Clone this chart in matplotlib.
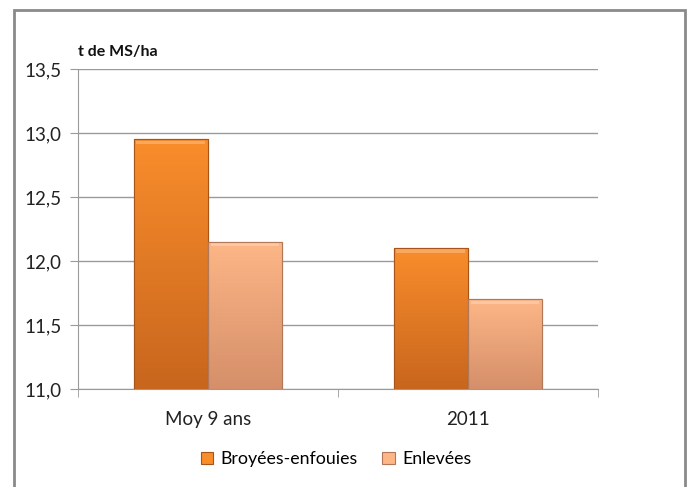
import numpy as np
import matplotlib.pyplot as plt
from matplotlib.patches import Rectangle
from matplotlib.colors import LinearSegmentedColormap

categories = ['Moy 9 ans', '2011']
broyees = [12.95, 12.10]
enlevees = [12.15, 11.70]
series_names = ['Broyées-enfouies', 'Enlevées']
yticks = [11.0, 11.5, 12.0, 12.5, 13.0, 13.5]

plt.rcParams['font.family'] = ['Lato', 'DejaVu Sans']

fig = plt.figure(figsize=(6.92, 4.87), dpi=100)
ax = fig.add_axes([0.1127, 0.2012, 0.7514, 0.6571])

x = np.arange(len(categories))
w = 0.285

# couleurs (haut, bas) pour le dégradé
cols = [('#f98d2c', '#c8661e'), ('#fdb686', '#d58f6a')]
edges = ['#a85418', '#b07858']

for j, vals in enumerate([broyees, enlevees]):
    off = (j - 0.5) * w
    bars = ax.bar(x + off, [v - 11.0 for v in vals], w, bottom=11.0,
                  color=cols[j][0], edgecolor=edges[j], linewidth=0.8,
                  label=series_names[j], zorder=3)
    cmap = LinearSegmentedColormap.from_list('g%d' % j, [cols[j][1], cols[j][0]])
    for b in bars:
        x0, y0 = b.get_x(), b.get_y()
        x1, y1 = x0 + b.get_width(), y0 + b.get_height()
        grad = np.linspace(0, 1, 100).reshape(-1, 1)
        im = ax.imshow(grad, cmap=cmap, origin='lower', aspect='auto',
                       extent=[x0, x1, y0, y1], zorder=3.5)
        im.set_clip_path(b)
        # liseré clair en haut
        ax.add_patch(Rectangle((x0 + 0.01, y1 - 0.035), x1 - x0 - 0.02, 0.025,
                               facecolor='white', alpha=0.25, lw=0, zorder=4))
        ax.add_patch(Rectangle((x0, y0), x1 - x0, y1 - y0, fill=False,
                               edgecolor=edges[j], lw=0.8, zorder=4.5))

ax.set_xlim(-0.5, 1.5)
ax.set_ylim(11.0, 13.5)
ax.set_yticks(yticks)
ax.set_yticklabels([f'{t:.1f}'.replace('.', ',') for t in yticks], fontsize=13.5, color='#222222')
ax.yaxis.grid(True, color='#9a9a9a', linewidth=1, zorder=0)
ax.set_axisbelow(True)

ax.set_xticks(x)
ax.set_xticklabels(categories, fontsize=13.5, color='#222222')
ax.set_xticks([-0.5, 0.5, 1.5], minor=True)
ax.tick_params(axis='x', which='major', length=0, pad=16)
ax.tick_params(axis='x', which='minor', length=6, color='#9a9a9a', direction='out')
ax.tick_params(axis='y', length=6, color='#9a9a9a', pad=6)

for s in ['top', 'right']:
    ax.spines[s].set_visible(False)
ax.spines['left'].set_color('#9a9a9a')
ax.spines['bottom'].set_color('#9a9a9a')

fig.text(78 / 692, 1 - 52 / 487, 't de MS/ha', fontsize=11.5, fontweight='bold',
         va='center', ha='left', color='#111111')

fig.legend(loc='center', bbox_to_anchor=(336 / 692, 1 - 459 / 487), ncol=2,
           frameon=False, fontsize=12.8, handlelength=0.7, handleheight=0.7,
           handletextpad=0.4, columnspacing=1.4)

# cadre du graphique
fig.add_artist(Rectangle((14 / 692, -0.02), (685 - 14) / 692, 1.02 - 10 / 487,
                         transform=fig.transFigure, fill=False,
                         edgecolor='#8a8a8a', linewidth=2))

fig.savefig('out.png', dpi=100)
